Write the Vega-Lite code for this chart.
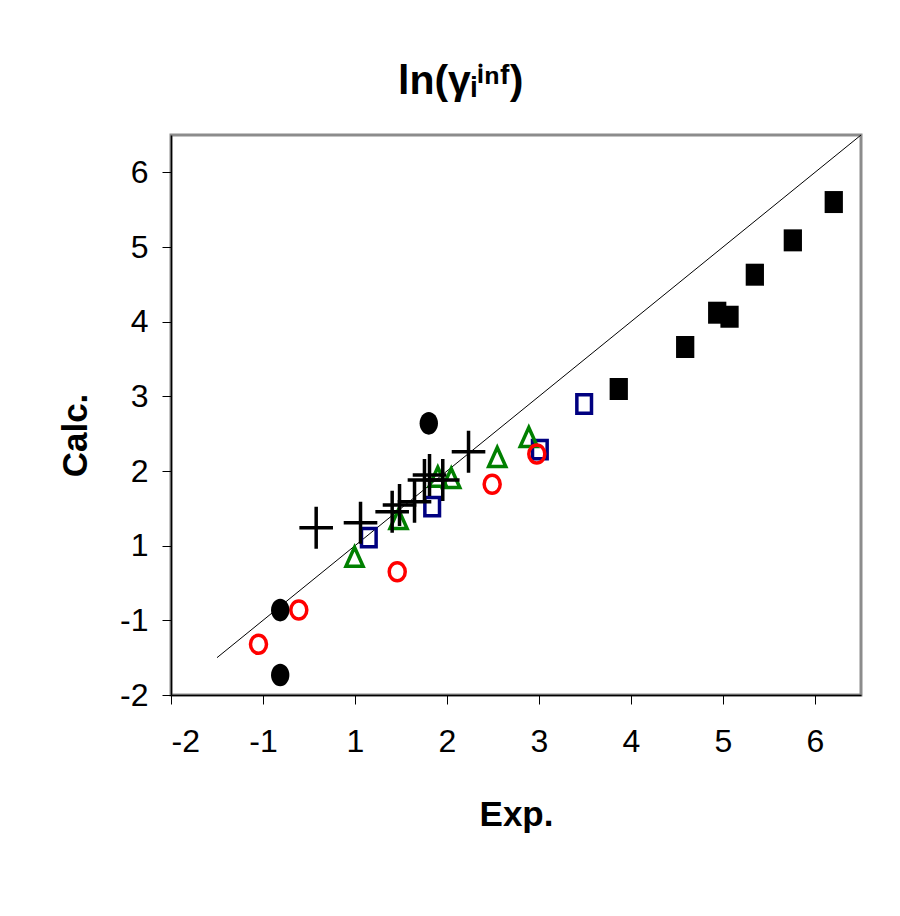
{
  "$schema": "https://vega.github.io/schema/vega-lite/v6.json",
  "width": 690,
  "height": 560,
  "autosize": {"type": "none"},
  "padding": {"left": 171, "top": 135, "right": 39, "bottom": 221},
  "background": "white",
  "title": {
    "text": "ln(γᵢⁱⁿᶠ)",
    "fontSize": 41,
    "fontWeight": "bold",
    "font": "Liberation Sans",
    "anchor": "middle",
    "frame": "bounds",
    "offset": 30,
    "color": "black"
  },
  "config": {
    "view": {"stroke": "#8c8c8c", "strokeWidth": 3},
    "font": "Liberation Sans"
  },
  "datasets": {
    "points": [
      {"series": "filledSquare", "x": 7.204, "y": 6.602},
      {"series": "filledSquare", "x": 6.759, "y": 6.089},
      {"series": "filledSquare", "x": 6.346, "y": 5.629},
      {"series": "filledSquare", "x": 5.937, "y": 5.120},
      {"series": "filledSquare", "x": 6.071, "y": 5.066},
      {"series": "filledSquare", "x": 5.589, "y": 4.661},
      {"series": "filledSquare", "x": 4.867, "y": 4.098},
      {"series": "openSquare", "x": 4.491, "y": 3.897},
      {"series": "openSquare", "x": 4.009, "y": 3.285},
      {"series": "openSquare", "x": 2.839, "y": 2.522},
      {"series": "openSquare", "x": 2.150, "y": 2.107},
      {"series": "triangle", "x": 3.889, "y": 3.455},
      {"series": "triangle", "x": 3.546, "y": 3.187},
      {"series": "triangle", "x": 2.900, "y": 2.924},
      {"series": "triangle", "x": 3.046, "y": 2.906},
      {"series": "triangle", "x": 2.473, "y": 2.357},
      {"series": "triangle", "x": 1.995, "y": 1.852},
      {"series": "openCircle", "x": 3.976, "y": 3.228},
      {"series": "openCircle", "x": 3.491, "y": 2.822},
      {"series": "openCircle", "x": 2.459, "y": 1.651},
      {"series": "openCircle", "x": 1.389, "y": 1.138},
      {"series": "openCircle", "x": 0.951, "y": 0.679},
      {"series": "filledCircle", "x": 2.802, "y": 3.639},
      {"series": "filledCircle", "x": 1.187, "y": 1.138},
      {"series": "filledCircle", "x": 1.187, "y": 0.268},
      {"series": "cross", "x": 1.578, "y": 2.241},
      {"series": "cross", "x": 2.060, "y": 2.307},
      {"series": "cross", "x": 2.404, "y": 2.455},
      {"series": "cross", "x": 2.484, "y": 2.545},
      {"series": "cross", "x": 2.647, "y": 2.589},
      {"series": "cross", "x": 2.755, "y": 2.879},
      {"series": "cross", "x": 2.810, "y": 2.946},
      {"series": "cross", "x": 2.954, "y": 2.879},
      {"series": "cross", "x": 3.234, "y": 3.258}
    ],
    "diag": [
      {"x": 0.5, "y": 0.5},
      {"x": 7.5, "y": 7.5}
    ]
  },
  "data": {"name": "points"},
  "encoding": {
    "x": {
      "field": "x",
      "type": "quantitative",
      "scale": {"domain": [0, 7.5], "nice": false, "zero": false},
      "axis": {
        "values": [0, 1, 2, 3, 4, 5, 6, 7],
        "labelExpr": "datum.value < 2 ? datum.value - 2 : datum.value - 1",
        "title": "Exp.",
        "titleFontSize": 35,
        "titleFontWeight": "bold",
        "titleColor": "black",
        "titlePadding": 40,
        "labelFontSize": 32,
        "labelColor": "black",
        "labelPadding": 22,
        "tickSize": 9,
        "tickColor": "black",
        "domainColor": "black",
        "domainWidth": 1.5,
        "grid": false
      }
    },
    "y": {
      "field": "y",
      "type": "quantitative",
      "scale": {"domain": [0, 7.5], "nice": false, "zero": false},
      "axis": {
        "values": [0, 1, 2, 3, 4, 5, 6, 7],
        "labelExpr": "datum.value < 2 ? datum.value - 2 : datum.value - 1",
        "title": "Calc.",
        "titleFontSize": 35,
        "titleFontWeight": "bold",
        "titleColor": "black",
        "titlePadding": 26,
        "titleY": 300,
        "labelFontSize": 32,
        "labelColor": "black",
        "labelPadding": 14,
        "tickSize": 9,
        "tickColor": "black",
        "domainColor": "black",
        "domainWidth": 1.5,
        "grid": false
      }
    }
  },
  "layer": [
    {
      "data": {"name": "diag"},
      "mark": {"type": "line", "color": "black", "strokeWidth": 1}
    },
    {
      "transform": [{"filter": "datum.series === 'openSquare'"}],
      "mark": {"type": "point", "shape": "M-0.8,-1H0.8V1H-0.8Z", "size": 335, "filled": false, "stroke": "#000080", "strokeWidth": 3.5, "opacity": 1}
    },
    {
      "transform": [{"filter": "datum.series === 'triangle'"}],
      "mark": {"type": "point", "shape": "M0,-1L0.9,1L-0.9,1Z", "size": 361, "filled": false, "stroke": "#008000", "strokeWidth": 3.5, "opacity": 1}
    },
    {
      "transform": [{"filter": "datum.series === 'openCircle'"}],
      "mark": {"type": "point", "shape": "M0.89,0C0.89,0.552,0.492,1,0,1C-0.492,1,-0.89,0.552,-0.89,0C-0.89,-0.552,-0.492,-1,0,-1C0.492,-1,0.89,-0.552,0.89,0Z", "size": 324, "filled": false, "stroke": "#ff0000", "strokeWidth": 3.5, "opacity": 1}
    },
    {
      "transform": [{"filter": "datum.series === 'filledCircle'"}],
      "mark": {"type": "point", "shape": "M0.81,0C0.81,0.552,0.447,1,0,1C-0.447,1,-0.81,0.552,-0.81,0C-0.81,-0.552,-0.447,-1,0,-1C0.447,-1,0.81,-0.552,0.81,0Z", "size": 515, "filled": true, "fill": "black", "opacity": 1}
    },
    {
      "transform": [{"filter": "datum.series === 'filledSquare'"}],
      "mark": {"type": "point", "shape": "M-0.83,-1H0.83V1H-0.83Z", "size": 484, "filled": true, "fill": "black", "opacity": 1}
    },
    {
      "transform": [{"filter": "datum.series === 'cross'"}],
      "mark": {"type": "point", "shape": "M-0.8,0H0.8M0,-1V1", "size": 1764, "filled": false, "stroke": "black", "strokeWidth": 3.5, "opacity": 1}
    }
  ]
}
